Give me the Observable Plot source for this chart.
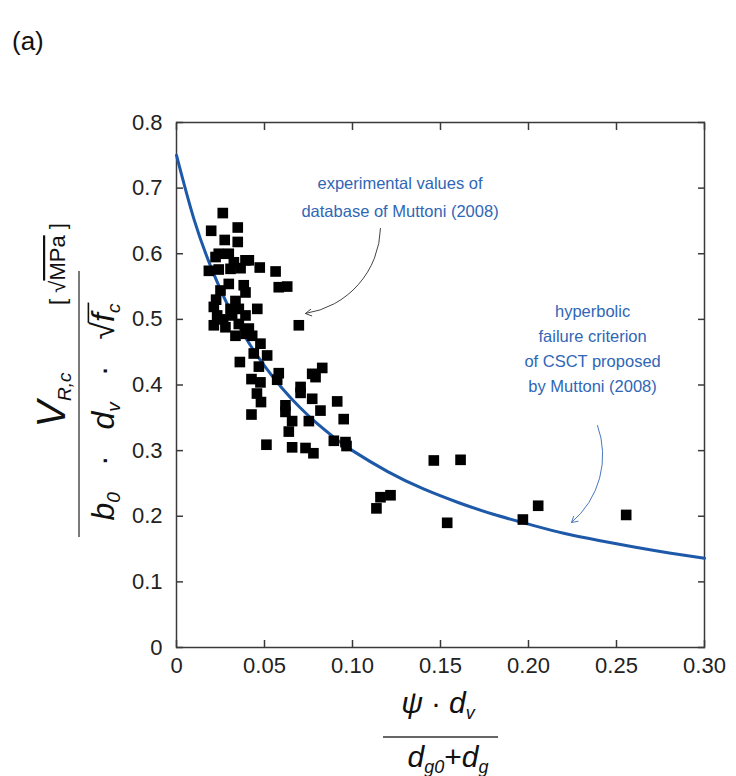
<!DOCTYPE html>
<html><head><meta charset="utf-8">
<script src="https://cdn.jsdelivr.net/npm/d3@7"></script>
<script src="https://cdn.jsdelivr.net/npm/@observablehq/plot@0.6"></script>
<style>
body{margin:0;background:#fff;}
#chart{position:relative;width:736px;height:776px;}
</style></head><body><div id="chart"></div>
<script>
const expX = [0.0263,0.0197,0.0348,0.0274,0.0348,0.0240,0.0297,0.0392,0.0222,0.0326,0.0411,0.0184,0.0240,0.0307,0.0473,0.0563,0.0364,
  0.0250,0.0297,0.0382,0.0392,0.0581,0.0629,0.0212,0.0307,0.0354,0.0459,0.0231,0.0316,0.0392,0.0212,0.0278,0.0354,0.0411,0.0392,0.0335,
  0.0695,0.0430,0.0477,0.0439,0.0515,0.0360,0.0468,0.0426,0.0477,0.0581,0.0572,0.0457,0.0480,0.0426,0.0771,0.0828,0.0790,0.0705,0.0705,
  0.0771,0.0913,0.0619,0.0619,0.0657,0.0752,0.0818,0.0950,0.0638,0.0894,0.0960,0.0966,0.0511,0.0657,0.0733,0.0778,0.1462,0.1614,0.1159,
  0.1216,0.1136,0.1538,0.1968,0.2055,0.2555,0.0225,0.0265,0.0335];
const expY = [0.662,0.635,0.640,0.621,0.618,0.600,0.600,0.590,0.595,0.587,0.590,0.574,0.576,0.577,0.579,0.573,0.578,
  0.544,0.554,0.552,0.541,0.549,0.550,0.519,0.516,0.516,0.516,0.506,0.506,0.506,0.491,0.488,0.493,0.486,0.478,0.475,
  0.491,0.475,0.463,0.448,0.445,0.435,0.428,0.409,0.404,0.418,0.408,0.387,0.374,0.355,0.417,0.426,0.412,0.397,0.388,
  0.379,0.375,0.369,0.359,0.345,0.345,0.361,0.348,0.329,0.315,0.313,0.307,0.309,0.305,0.304,0.296,0.285,0.286,0.229,
  0.232,0.212,0.190,0.195,0.216,0.202,0.530,0.500,0.528];
// hyperbolic failure criterion of CSCT
const curveX = [0,0.01,0.02,0.03,0.04,0.05,0.06,0.07,0.08,0.09,0.10,0.12,0.14,0.16,0.18,0.20,0.22,0.24,0.26,0.28,0.30];
const curveY = [0.750,0.652,0.577,0.517,0.469,0.429,0.395,0.366,0.341,0.319,0.300,0.268,0.242,0.221,0.203,0.188,0.174,0.163,0.153,0.144,0.136];
// ticks
const xTicks = [0,0.05,0.10,0.15,0.20,0.25,0.30];
const xTickLabels = ["0","0.05","0.10","0.15","0.20","0.25","0.30"];
const yTicks = [0,0.1,0.2,0.3,0.4,0.5,0.6,0.7,0.8];
const yTickLabels = ["0","0.1","0.2","0.3","0.4","0.5","0.6","0.7","0.8"];
// annotations
const noteExp = ["experimental values of","database of Muttoni (2008)"];
const noteCurve = ["hyperbolic","failure criterion","of CSCT proposed","by Muttoni (2008)"];

const points = expX.map((x,i)=>({x, y: expY[i]}));
const curve = curveX.map((x,i)=>({x, y: curveY[i]}));
const blue = "#1d59a8";
const textBlue = "#2f66b6";
const ink = "#3a3a3a";

const chart = Plot.plot({
  width: 736, height: 776,
  marginLeft: 176, marginRight: 32, marginTop: 122, marginBottom: 129,
  style: {fontFamily: "'Liberation Sans', Arial, sans-serif", fontSize: "22px", color: "#222", background: "#fff"},
  x: {domain: [0, 0.30]},
  y: {domain: [0, 0.8]},
  marks: [
    Plot.frame({stroke: ink, strokeWidth: 1.5}),
    Plot.axisX(xTicks, {anchor: "bottom", tickSize: -7, tickPadding: 17, tickFormat: (d,i)=>xTickLabels[i], label: null, stroke: ink, strokeWidth: 1.5, fill: "#222"}),
    Plot.axisX(xTicks, {anchor: "top", tickSize: -7, tickFormat: ()=>"", label: null, stroke: ink, strokeWidth: 1.5}),
    Plot.axisY(yTicks, {anchor: "left", tickSize: -7, tickPadding: 21, tickFormat: (d,i)=>yTickLabels[i], label: null, stroke: ink, strokeWidth: 1.5, fill: "#222"}),
    Plot.axisY(yTicks, {anchor: "right", tickSize: -7, tickFormat: ()=>"", label: null, stroke: ink, strokeWidth: 1.5}),
    Plot.line(curve, {x: "x", y: "y", stroke: blue, strokeWidth: 3, curve: "natural"}),
    Plot.dot(points, {x: "x", y: "y", symbol: "square", r: 6, fill: "#000", stroke: "none"}),
    Plot.text([noteExp.join("\n")], {x: 0.127, y: 0.691, fill: textBlue, fontSize: 16.5, lineHeight: 1.7, textAnchor: "middle"}),
    Plot.text([noteCurve.join("\n")], {x: 0.2364, y: 0.4585, fill: textBlue, fontSize: 16.5, lineHeight: 1.5, textAnchor: "middle"}),
    Plot.arrow([0], {x1: 0.1159, y1: 0.6385, x2: 0.0733, y2: 0.509, bend: 40, stroke: "#444", strokeWidth: 1, headLength: 10}),
    Plot.arrow([0], {x1: 0.2392, y1: 0.3383, x2: 0.2244, y2: 0.1905, bend: 35, stroke: "#4a78c0", strokeWidth: 1, headLength: 10})
  ]
});
document.getElementById("chart").appendChild(chart);

const svg = d3.select(chart);
const ff = "'Liberation Sans', Arial, sans-serif";
// panel tag
svg.append("text").attr("x", 12).attr("y", 50).attr("text-anchor", "start").attr("font-size", 26).attr("font-family", ff).attr("fill", "#111").text("(a)");

// y-axis label (rotated fraction)
const gy = svg.append("g").attr("transform", "translate(79,404) rotate(-90)")
  .attr("font-family", ff).attr("fill", "#111");
gy.append("line").attr("x1", -133).attr("x2", 133).attr("y1", 0).attr("y2", 0).attr("stroke", "#333").attr("stroke-width", 1.3);
const num = gy.append("text").attr("x", 4).attr("y", -14).attr("text-anchor", "middle").attr("font-style", "italic");
num.append("tspan").attr("font-size", 40).text("V");
num.append("tspan").attr("font-size", 19).attr("dy", 6).text("R,c");
const denY = 35, denFs = 32;
const den = gy.append("text").attr("x", -8).attr("y", denY).attr("text-anchor", "middle").attr("font-style", "italic").attr("font-size", denFs);
den.append("tspan").text("b");
den.append("tspan").attr("font-size", 19).attr("dy", 6).text("0");
den.append("tspan").attr("dy", -6).attr("dx", 26).attr("font-style", "normal").text("·");
den.append("tspan").attr("dx", 26).text("d");
den.append("tspan").attr("font-size", 19).attr("dy", 6).text("v");
den.append("tspan").attr("dy", -6).attr("dx", 26).attr("font-style", "normal").text("·");
den.append("tspan").attr("dx", 26).attr("font-style", "normal").text("√");
den.append("tspan").text("f");
den.append("tspan").attr("font-size", 19).attr("dy", 6).text("c");
// radical bar over f_c, measured from the rendered text
try {
  const node = den.node();
  const n = node.getNumberOfChars();
  const xs = node.getEndPositionOfChar(6).x - 1;
  const xe = node.getEndPositionOfChar(n - 1).x + 1;
  gy.append("line").attr("x1", xs).attr("x2", xe).attr("y1", denY - denFs * 0.8).attr("y2", denY - denFs * 0.8)
    .attr("stroke", "#111").attr("stroke-width", 1.6);
} catch (e) {}
const unit = gy.append("text").attr("x", 140).attr("y", -14).attr("text-anchor", "middle").attr("font-size", 22);
unit.append("tspan").text("[ √");
unit.append("tspan").attr("style", "text-decoration: overline").text("MPa");
unit.append("tspan").text(" ]");

// x-axis label (fraction)
const gx = svg.append("g").attr("font-family", ff).attr("fill", "#111");
gx.append("line").attr("x1", 383).attr("x2", 498).attr("y1", 737).attr("y2", 737).attr("stroke", "#333").attr("stroke-width", 1.3);
const xn = gx.append("text").attr("x", 438).attr("y", 713).attr("text-anchor", "middle").attr("font-style", "italic").attr("font-size", 30);
xn.append("tspan").text("ψ");
xn.append("tspan").attr("dx", 8).attr("font-style", "normal").text("·");
xn.append("tspan").attr("dx", 8).text("d");
xn.append("tspan").attr("font-size", 18).attr("dy", 6).text("v");
const xd = gx.append("text").attr("x", 448).attr("y", 767).attr("text-anchor", "middle").attr("font-style", "italic").attr("font-size", 30);
xd.append("tspan").text("d");
xd.append("tspan").attr("font-size", 18).attr("dy", 6).text("g0");
xd.append("tspan").attr("dy", -6).attr("font-style", "normal").text("+");
xd.append("tspan").text("d");
xd.append("tspan").attr("font-size", 18).attr("dy", 6).text("g");
</script>
</body></html>
